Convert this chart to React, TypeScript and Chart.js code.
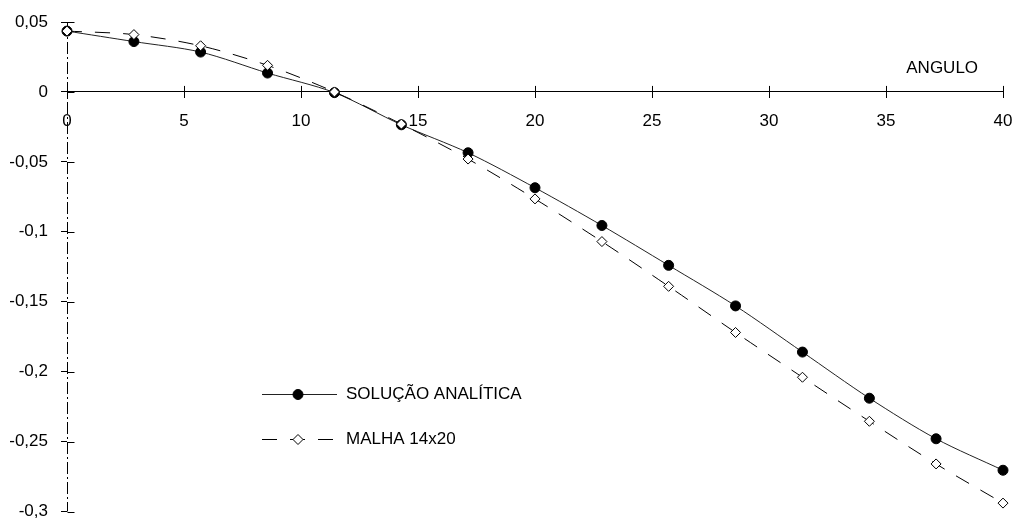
import React, { useEffect, useRef } from "react";
import { Chart, registerables } from "chart.js";

Chart.register(...registerables);

// Angle positions (15 stations from 0 to 40)
const angles = [0, 2.86, 5.71, 8.57, 11.43, 14.29, 17.14, 20, 22.86, 25.71, 28.57, 31.43, 34.29, 37.14, 40];

// Analytical solution
const analytical = [0.0435, 0.036, 0.0285, 0.0135, -0.0005, -0.0235, -0.0435, -0.0685, -0.0955, -0.124, -0.153, -0.186, -0.219, -0.248, -0.2705];

// 14x20 mesh results
const mesh14x20 = [0.0435, 0.041, 0.033, 0.019, 0.0, -0.023, -0.048, -0.0765, -0.107, -0.139, -0.172, -0.204, -0.2355, -0.266, -0.294];

const seriesLabels = ["SOLUÇÃO ANALÍTICA", "MALHA 14x20"];
const xAxisTitle = "ANGULO";
const xRange = [0, 40];
const yRange = [-0.3, 0.05];
const xStep = 5;
const yStep = 0.05;

const FONT = "'Liberation Sans', Arial, Helvetica, sans-serif";
const FONT_SIZE = 17;

const formatComma = (v: number) => {
  const r = Math.round(v * 100) / 100;
  return String(r).replace(".", ",");
};

// keep tick-label overhang from shrinking the plot area
const noOverhang = (scale: any) => {
  scale.paddingLeft = 0;
  scale.paddingRight = 0;
  scale.paddingTop = 0;
  scale.paddingBottom = 0;
};

// marker used in the legend, mirroring the dataset point style
const drawMarker = (ctx: CanvasRenderingContext2D, ds: any, cx: number, cy: number) => {
  const r = ds.pointRadius;
  ctx.beginPath();
  if (ds.pointStyle === "rectRot") {
    ctx.moveTo(cx, cy - r);
    ctx.lineTo(cx + r, cy);
    ctx.lineTo(cx, cy + r);
    ctx.lineTo(cx - r, cy);
    ctx.closePath();
  } else {
    ctx.arc(cx, cy, r, 0, Math.PI * 2);
  }
  ctx.fillStyle = ds.pointBackgroundColor;
  ctx.fill();
  ctx.strokeStyle = ds.pointBorderColor;
  ctx.lineWidth = ds.pointBorderWidth;
  ctx.stroke();
};

const decorations = {
  id: "decorations",
  beforeDatasetsDraw(chart: any) {
    const { ctx, scales } = chart;
    const x = scales.x;
    const y = scales.y;
    const x0 = Math.round(x.getPixelForValue(0)) + 0.5;
    ctx.save();
    // dash-dot vertical axis
    ctx.strokeStyle = "#000";
    ctx.lineWidth = 1;
    ctx.setLineDash([12, 3, 2, 3]);
    ctx.beginPath();
    ctx.moveTo(x0, y.getPixelForValue(yRange[1]));
    ctx.lineTo(x0, y.getPixelForValue(yRange[0]));
    ctx.stroke();
    ctx.setLineDash([]);
    // inner half of the tick marks
    const y0 = y.getPixelForValue(0);
    x.ticks.forEach((t: any) => {
      const px = Math.round(x.getPixelForValue(t.value)) + 0.5;
      ctx.beginPath();
      ctx.moveTo(px, y0 - 6);
      ctx.lineTo(px, y0);
      ctx.stroke();
    });
    y.ticks.forEach((t: any) => {
      const py = Math.round(y.getPixelForValue(t.value)) + 0.5;
      ctx.beginPath();
      ctx.moveTo(x0, py);
      ctx.lineTo(x0 + 7, py);
      ctx.stroke();
    });
    ctx.restore();
  },
  afterDraw(chart: any) {
    const { ctx, scales, chartArea } = chart;
    const x = scales.x;
    const y = scales.y;
    ctx.save();
    ctx.fillStyle = "#000";
    ctx.font = `${FONT_SIZE}px ${FONT}`;
    ctx.textBaseline = "middle";
    ctx.textAlign = "center";
    ctx.fillText(xAxisTitle, x.getPixelForValue(37.4), y.getPixelForValue(0) - 24);

    // legend inside the plot
    const lx = chartArea.left + 195;
    const ly = chartArea.top + 372;
    const rowGap = 45;
    chart.data.datasets
      .slice()
      .sort((a: any, b: any) => a.legendRank - b.legendRank)
      .forEach((ds: any, i: number) => {
        const rowY = Math.round(ly + i * rowGap) + 0.5;
        ctx.strokeStyle = ds.borderColor;
        ctx.lineWidth = ds.borderWidth;
        ctx.setLineDash(ds.borderDash || []);
        ctx.beginPath();
        ctx.moveTo(lx, rowY);
        ctx.lineTo(lx + 75, rowY);
        ctx.stroke();
        ctx.setLineDash([]);
        drawMarker(ctx, ds, lx + 36, rowY);
        ctx.fillStyle = "#000";
        ctx.textAlign = "left";
        ctx.fillText(ds.label, lx + 84, rowY);
      });
    ctx.restore();
  },
};

export default function App() {
  const canvasRef = useRef<HTMLCanvasElement | null>(null);

  useEffect(() => {
    const canvas = canvasRef.current;
    if (!canvas) return;
    const chart = new Chart(canvas, {
      type: "line",
      data: {
        datasets: [
          {
            label: seriesLabels[0],
            legendRank: 0,
            order: 1,
            data: angles.map((a, i) => ({ x: a, y: analytical[i] })),
            borderColor: "#222",
            borderWidth: 1,
            tension: 0.3,
            pointStyle: "circle",
            pointRadius: 5,
            pointBackgroundColor: "#000",
            pointBorderColor: "#000",
            pointBorderWidth: 1,
            clip: false,
          } as any,
          {
            label: seriesLabels[1],
            legendRank: 1,
            order: 0,
            data: angles.map((a, i) => ({ x: a, y: mesh14x20[i] })),
            borderColor: "#000",
            borderWidth: 1,
            borderDash: [15, 13],
            tension: 0.3,
            pointStyle: "rectRot",
            pointRadius: 5,
            pointBackgroundColor: "#fff",
            pointBorderColor: "#000",
            pointBorderWidth: 1,
            clip: false,
          } as any,
        ],
      },
      options: {
        animation: false,
        responsive: true,
        maintainAspectRatio: false,
        layout: { padding: { left: 0, right: 11, top: 22, bottom: 7.5 } },
        plugins: { legend: { display: false }, tooltip: { enabled: false } },
        scales: {
          x: {
            type: "linear",
            position: { y: 0 } as any,
            min: xRange[0],
            max: xRange[1],
            afterFit: noOverhang,
            ticks: {
              stepSize: xStep,
              color: "#000",
              font: { family: FONT, size: FONT_SIZE },
              padding: 13,
              maxRotation: 0,
            },
            grid: { drawOnChartArea: false, drawTicks: true, tickLength: 6, color: "#000" },
            border: { display: true, color: "#000", width: 1 },
          },
          y: {
            type: "linear",
            position: "left",
            min: yRange[0],
            max: yRange[1],
            afterFit: (scale: any) => {
              noOverhang(scale);
              scale.width = 67;
            },
            ticks: {
              stepSize: yStep,
              color: "#000",
              font: { family: FONT, size: FONT_SIZE },
              padding: 13,
              callback: (v: any) => formatComma(Number(v)),
            },
            grid: { drawOnChartArea: false, drawTicks: true, tickLength: 6, color: "#000" },
            border: { display: false },
          },
        },
      },
      plugins: [decorations],
    });
    return () => chart.destroy();
  }, []);

  return (
    <div style={{ position: "fixed", left: 0, top: 0, width: 1014, height: 519, background: "#fff" }}>
      <canvas ref={canvasRef} />
    </div>
  );
}
